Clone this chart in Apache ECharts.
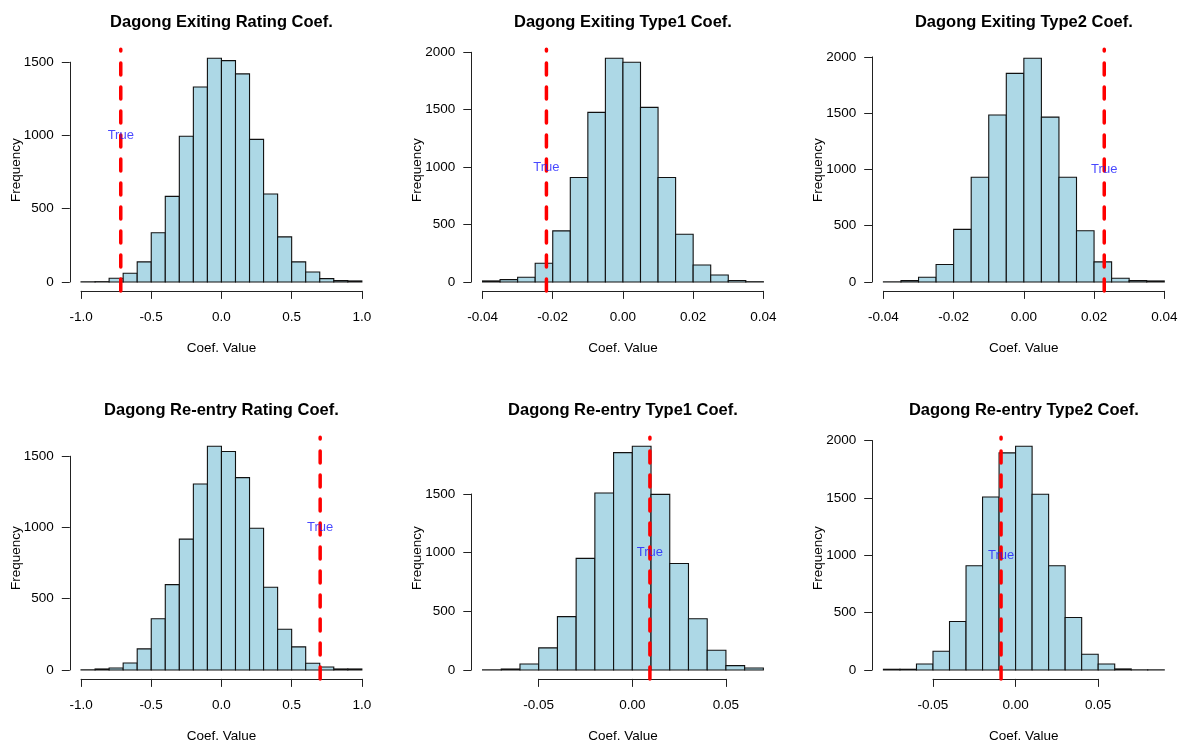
<!DOCTYPE html>
<html>
<head>
<meta charset="utf-8">
<script src="https://cdn.jsdelivr.net/npm/echarts@6/dist/echarts.min.js"></script>
<style>
html,body{margin:0;padding:0;background:#ffffff;}
#chart{width:1182px;height:745px;}
</style>
</head>
<body>
<div id="chart"></div>
<script>
// ---------------- data ----------------
const titles = [
  "Dagong Exiting Rating Coef.",
  "Dagong Exiting Type1 Coef.",
  "Dagong Exiting Type2 Coef.",
  "Dagong Re-entry Rating Coef.",
  "Dagong Re-entry Type1 Coef.",
  "Dagong Re-entry Type2 Coef."
];

// histogram bin edges
const breaksExitRating = [-1.0,-0.9,-0.8,-0.7,-0.6,-0.5,-0.4,-0.3,-0.2,-0.1,0.0,0.1,0.2,0.3,0.4,0.5,0.6,0.7,0.8,0.9,1.0];
const breaksExitType1 = [-0.04,-0.035,-0.03,-0.025,-0.02,-0.015,-0.01,-0.005,0.0,0.005,0.01,0.015,0.02,0.025,0.03,0.035,0.04];
const breaksExitType2 = [-0.04,-0.035,-0.03,-0.025,-0.02,-0.015,-0.01,-0.005,0.0,0.005,0.01,0.015,0.02,0.025,0.03,0.035,0.04];
const breaksReentryRating = [-1.0,-0.9,-0.8,-0.7,-0.6,-0.5,-0.4,-0.3,-0.2,-0.1,0.0,0.1,0.2,0.3,0.4,0.5,0.6,0.7,0.8,0.9,1.0];
const breaksReentryType1 = [-0.08,-0.07,-0.06,-0.05,-0.04,-0.03,-0.02,-0.01,0.0,0.01,0.02,0.03,0.04,0.05,0.06,0.07];
const breaksReentryType2 = [-0.08,-0.07,-0.06,-0.05,-0.04,-0.03,-0.02,-0.01,0.0,0.01,0.02,0.03,0.04,0.05,0.06,0.07,0.08,0.09];

// histogram counts (frequency per bin)
const countsExitRating = [1,2,25,59,137,336,584,995,1331,1527,1511,1420,973,600,308,137,68,23,9,7];
const countsExitType1 = [9,20,41,163,445,910,1477,1948,1913,1520,910,416,148,61,12,2];
const countsExitType2 = [1,12,42,155,467,930,1483,1854,1988,1465,930,455,178,33,12,9];
const countsReentryRating = [1,7,14,49,148,359,599,918,1305,1570,1533,1350,995,580,286,162,47,21,7,7];
const countsReentryType1 = [1,8,51,188,455,951,1509,1853,1907,1497,908,436,168,37,17];
const countsReentryType2 = [6,6,52,163,422,908,1508,1892,1950,1531,908,457,137,52,9,1,1];

// true coefficient values (red dashed lines)
const trueValues = [-0.717, -0.0218, 0.0229, 0.703, 0.0094, -0.0088];
const trueLabelY = 1000;
const trueLabelText = "True";

// tick values and labels
const xTicksRating = [-1.0,-0.5,0.0,0.5,1.0];
const xLabelsRating = ["-1.0","-0.5","0.0","0.5","1.0"];
const xTicksExitType = [-0.04,-0.02,0.0,0.02,0.04];
const xLabelsExitType = ["-0.04","-0.02","0.00","0.02","0.04"];
const xTicksReentryType = [-0.05,0.0,0.05];
const xLabelsReentryType = ["-0.05","0.00","0.05"];
const yTicks1500 = [0,500,1000,1500];
const yTicks2000 = [0,500,1000,1500,2000];

const xAxisTitle = "Coef. Value";
const yAxisTitle = "Frequency";

// ---------------- layout ----------------
const COL_LEFT = [69.8, 471.3, 872.2];
const ROW_TOP = [49.3, 437.3];
const PLOT_W = 303.3;
const PLOT_H = 241.6;
const FONT = "'Liberation Sans', Arial, Helvetica, sans-serif";
const AXIS_COLOR = "#222222";

const panels = [
  {title: titles[0], breaks: breaksExitRating, counts: countsExitRating, trueVal: trueValues[0], xTicks: xTicksRating, xLabels: xLabelsRating, yTicks: yTicks1500},
  {title: titles[1], breaks: breaksExitType1, counts: countsExitType1, trueVal: trueValues[1], xTicks: xTicksExitType, xLabels: xLabelsExitType, yTicks: yTicks2000},
  {title: titles[2], breaks: breaksExitType2, counts: countsExitType2, trueVal: trueValues[2], xTicks: xTicksExitType, xLabels: xLabelsExitType, yTicks: yTicks2000},
  {title: titles[3], breaks: breaksReentryRating, counts: countsReentryRating, trueVal: trueValues[3], xTicks: xTicksRating, xLabels: xLabelsRating, yTicks: yTicks1500},
  {title: titles[4], breaks: breaksReentryType1, counts: countsReentryType1, trueVal: trueValues[4], xTicks: xTicksReentryType, xLabels: xLabelsReentryType, yTicks: yTicks1500},
  {title: titles[5], breaks: breaksReentryType2, counts: countsReentryType2, trueVal: trueValues[5], xTicks: xTicksReentryType, xLabels: xLabelsReentryType, yTicks: yTicks2000}
];

const grid = [], xAxis = [], yAxis = [], series = [], title = [];
const r10 = v => +v.toFixed(10);

panels.forEach((p, i) => {
  const col = i % 3, row = Math.floor(i / 3);
  const L = COL_LEFT[col], T = ROW_TOP[row], W = PLOT_W, H = PLOT_H;
  const x0 = p.breaks[0], x1 = p.breaks[p.breaks.length - 1];
  const xe = (x1 - x0) * 0.04;
  const xmin = x0 - xe, xmax = x1 + xe;
  const M = Math.max.apply(null, p.counts);
  const ymin = -0.04 * M, ymax = 1.04 * M;
  const px = v => L + (v - xmin) / (xmax - xmin) * W;
  const py = v => T + (ymax - v) / (ymax - ymin) * H;

  title.push({
    text: p.title,
    left: L + W / 2,
    top: T - 35.8,
    textAlign: 'center',
    padding: 0,
    textStyle: {fontSize: 16.5, fontWeight: 'bold', color: '#000', fontFamily: FONT}
  });

  // data grid (R plot region)
  const g = grid.length;
  grid.push({left: L, top: T, width: W, height: H});
  xAxis.push({
    gridIndex: g, type: 'value', min: xmin, max: xmax,
    axisLine: {show: false}, axisTick: {show: false}, axisLabel: {show: false}, splitLine: {show: false},
    name: xAxisTitle, nameLocation: 'middle', nameGap: 50,
    nameTextStyle: {fontSize: 13.5, color: '#000', fontFamily: FONT}
  });
  yAxis.push({
    gridIndex: g, type: 'value', min: ymin, max: ymax,
    axisLine: {show: false}, axisTick: {show: false}, axisLabel: {show: false}, splitLine: {show: false},
    name: yAxisTitle, nameLocation: 'middle', nameGap: 47, nameRotate: 90,
    nameTextStyle: {fontSize: 13.5, color: '#000', fontFamily: FONT}
  });

  series.push({
    type: 'custom', xAxisIndex: g, yAxisIndex: g, silent: true, clip: false,
    data: p.counts.map((c, k) => [p.breaks[k], p.breaks[k + 1], c]),
    encode: {x: [0, 1], y: 2},
    renderItem: function (params, api) {
      const a = api.coord([api.value(0), 0]);
      const b = api.coord([api.value(1), api.value(2)]);
      return {
        type: 'rect',
        shape: {x: a[0], y: b[1], width: b[0] - a[0], height: a[1] - b[1]},
        style: {fill: '#ADD8E6', stroke: '#111111', lineWidth: 1.1}
      };
    },
    z: 2
  });

  series.push({
    type: 'line', xAxisIndex: g, yAxisIndex: g, silent: true, clip: false,
    data: [[p.trueVal, ymin], [p.trueVal, ymax]],
    symbol: 'none',
    lineStyle: {color: '#ff0000', width: 3.5, type: [12, 12], cap: 'round'},
    z: 3
  });

  series.push({
    type: 'scatter', xAxisIndex: g, yAxisIndex: g, silent: true,
    data: [[p.trueVal, trueLabelY]],
    symbolSize: 0,
    itemStyle: {color: 'transparent'},
    label: {show: true, position: 'inside', formatter: trueLabelText, color: '#1a1aff', fontSize: 13, fontFamily: FONT},
    z: 4
  });

  // x axis (spans first..last tick, at plot bottom)
  const gx = grid.length;
  const xt0 = p.xTicks[0], xt1 = p.xTicks[p.xTicks.length - 1];
  grid.push({left: px(xt0), top: T + H - 1, width: px(xt1) - px(xt0), height: 1});
  xAxis.push({
    gridIndex: gx, type: 'value', position: 'bottom', min: xt0, max: xt1,
    interval: r10(p.xTicks[1] - p.xTicks[0]),
    axisLine: {show: true, lineStyle: {color: AXIS_COLOR, width: 1}},
    axisTick: {show: true, length: 8, lineStyle: {color: AXIS_COLOR, width: 1}},
    axisLabel: {
      show: true, margin: 19, fontSize: 13.5, color: '#000', fontFamily: FONT,
      showMinLabel: true, showMaxLabel: true,
      formatter: (v) => {
        let best = 0;
        p.xTicks.forEach((t, k) => { if (Math.abs(t - v) < Math.abs(p.xTicks[best] - v)) best = k; });
        return p.xLabels[best];
      }
    },
    splitLine: {show: false}
  });
  yAxis.push({gridIndex: gx, type: 'value', show: false});

  // y axis (spans 0..last tick, at plot left)
  const gy = grid.length;
  const yt1 = p.yTicks[p.yTicks.length - 1];
  grid.push({left: L, top: py(yt1), width: 1, height: py(0) - py(yt1)});
  xAxis.push({gridIndex: gy, type: 'value', show: false});
  yAxis.push({
    gridIndex: gy, type: 'value', position: 'left', min: 0, max: yt1,
    interval: p.yTicks[1] - p.yTicks[0],
    axisLine: {show: true, lineStyle: {color: AXIS_COLOR, width: 1}},
    axisTick: {show: true, length: 8, lineStyle: {color: AXIS_COLOR, width: 1}},
    axisLabel: {
      show: true, margin: 16, fontSize: 13.5, color: '#000', fontFamily: FONT,
      showMinLabel: true, showMaxLabel: true,
      formatter: (v) => String(Math.round(v))
    },
    splitLine: {show: false}
  });
});

const chart = echarts.init(document.getElementById('chart'), null, {renderer: 'canvas'});
chart.setOption({
  animation: false,
  backgroundColor: '#ffffff',
  textStyle: {fontFamily: FONT},
  title: title,
  grid: grid,
  xAxis: xAxis,
  yAxis: yAxis,
  series: series
});
</script>
</body>
</html>
